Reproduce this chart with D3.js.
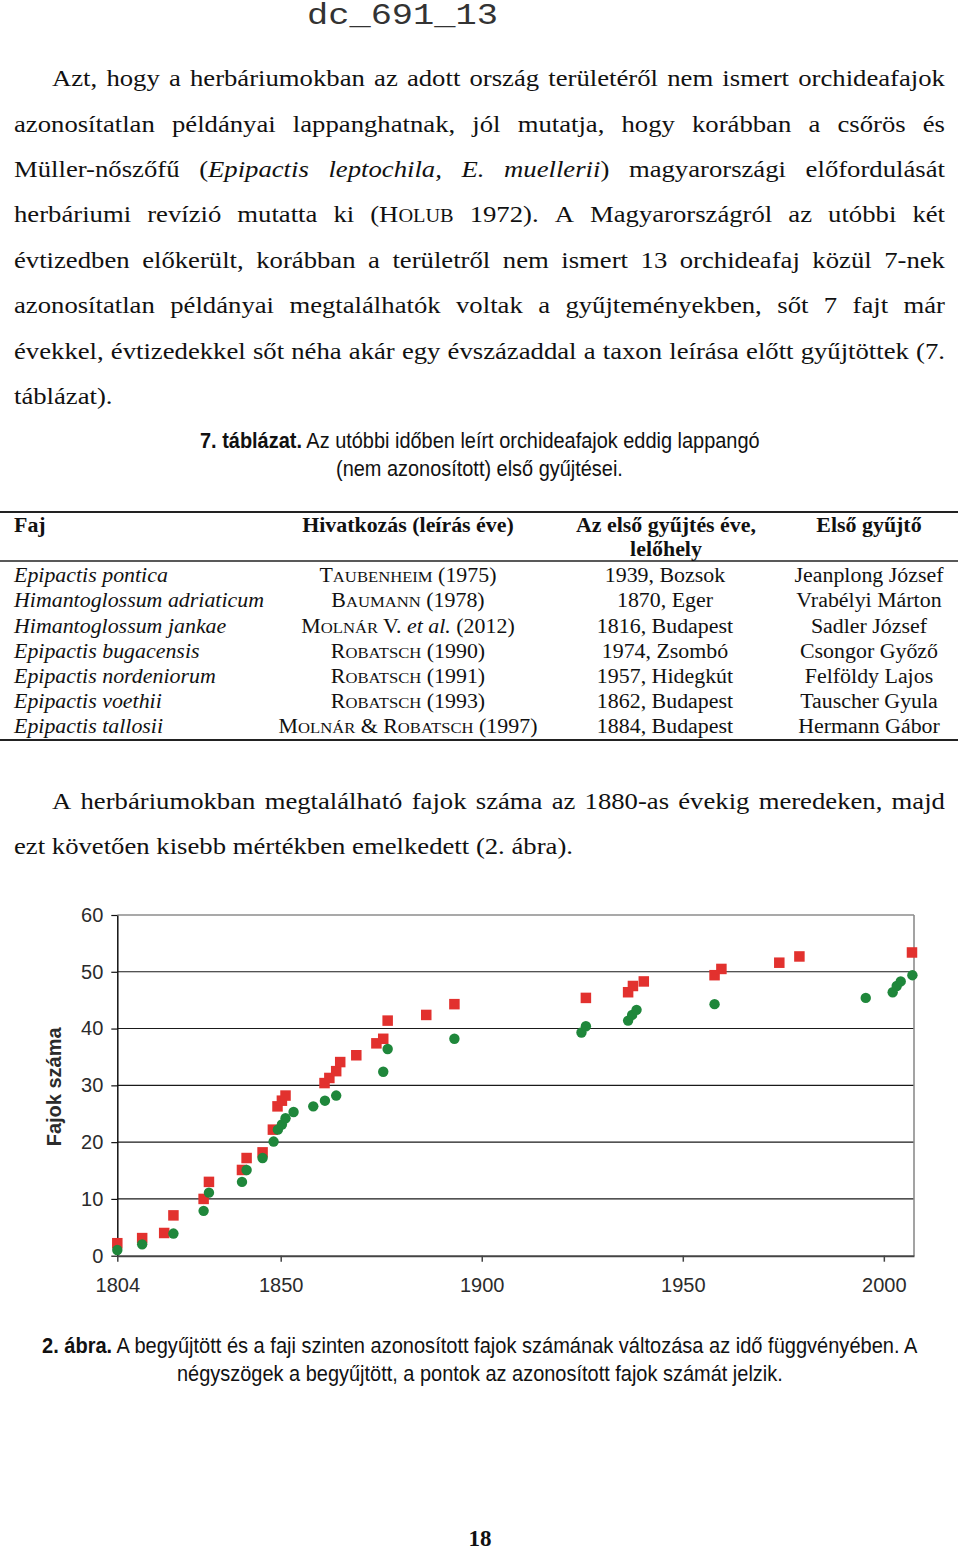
<!DOCTYPE html>
<html><head><meta charset="utf-8">
<script src="https://cdn.jsdelivr.net/npm/d3@7"></script>
<style>html,body{margin:0;padding:0;background:#fff;} svg{display:block;}</style>
</head><body>
<svg id="page" width="960" height="1553"></svg>
<script>
// ---------------- data ----------------
const headerCode = "dc_691_13";
const para1Lines = [
  "Azt, hogy a herbáriumokban az adott ország területéről nem ismert orchideafajok",
  "azonosítatlan példányai lappanghatnak, jól mutatja, hogy korábban a csőrös és",
  "Müller-nőszőfű (_Epipactis leptochila, E. muellerii_) magyarországi előfordulását",
  "herbáriumi revízió mutatta ki (H~OLUB~ 1972). A Magyarországról az utóbbi két",
  "évtizedben előkerült, korábban a területről nem ismert 13 orchideafaj közül 7-nek",
  "azonosítatlan példányai megtalálhatók voltak a gyűjteményekben, sőt 7 fajt már",
  "évekkel, évtizedekkel sőt néha akár egy évszázaddal a taxon leírása előtt gyűjtöttek (7.",
  "táblázat)."
];
const para2Lines = [
  "A herbáriumokban megtalálható fajok száma az 1880-as évekig meredeken, majd",
  "ezt követően kisebb mértékben emelkedett (2. ábra)."
];
const tableCaptionLines = [
  "*7. táblázat.* Az utóbbi időben leírt orchideafajok eddig lappangó",
  "(nem azonosított) első gyűjtései."
];
const tableHeaders = ["Faj", "Hivatkozás (leírás éve)", "Az első gyűjtés éve,", "Első gyűjtő"];
const tableHeaderSecondLine = "lelőhely";
const tableSpecies = ["Epipactis pontica", "Himantoglossum adriaticum", "Himantoglossum jankae",
  "Epipactis bugacensis", "Epipactis nordeniorum", "Epipactis voethii", "Epipactis tallosii"];
const tableReferences = ["T~AUBENHEIM~ (1975)", "B~AUMANN~ (1978)", "M~OLNÁR~ V. _et al._ (2012)",
  "R~OBATSCH~ (1990)", "R~OBATSCH~ (1991)", "R~OBATSCH~ (1993)", "M~OLNÁR~ & R~OBATSCH~ (1997)"];
const tableFirstCollections = ["1939, Bozsok", "1870, Eger", "1816, Budapest", "1974, Zsombó",
  "1957, Hidegkút", "1862, Budapest", "1884, Budapest"];
const tableCollectors = ["Jeanplong József", "Vrabélyi Márton", "Sadler József", "Csongor Győző",
  "Felföldy Lajos", "Tauscher Gyula", "Hermann Gábor"];
const figCaptionLines = [
  "*2. ábra.* A begyűjtött és a faji szinten azonosított fajok számának változása az idő függvényében. A",
  "négyszögek a begyűjtött, a pontok az azonosított fajok számát jelzik."
];
const pageNumber = "18";

// chart
const yAxisTitle = "Fajok száma";
const xTickValues = [1804, 1850, 1900, 1950, 2000];
const xTickLabels = ["1804", "1850", "1900", "1950", "2000"];
const yTickValues = [0, 10, 20, 30, 40, 50, 60];
const xDomain = [1804, 1850, 2007.5];
const collectedYears  = [1804, 1811, 1817.2, 1819.8, 1828.3, 1829.8, 1839.1, 1840.4, 1844.9, 1847.8, 1849.1, 1850.3, 1851.2,
  1860.9, 1862.1, 1863.8, 1864.8, 1868.8, 1873.8, 1875.5, 1876.6, 1886.2, 1893.2,
  1925.9, 1936.4, 1937.6, 1940.3, 1957.9, 1959.6, 1974, 1979, 2007];
const collectedCounts = [2.2, 3.1, 4, 7.1, 10, 13, 15.1, 17.2, 18.2, 22.2, 26.3, 27.3, 28.2,
  30.4, 31.3, 32.5, 34.1, 35.3, 37.4, 38.2, 41.4, 42.4, 44.3,
  45.4, 46.4, 47.5, 48.3, 49.4, 50.5, 51.6, 52.7, 53.4];
const identifiedYears  = [1804, 1811, 1819.8, 1828.3, 1829.8, 1839.1, 1840.4, 1844.9, 1848, 1849.2, 1850.3, 1851.2, 1853.2,
  1858.1, 1861, 1863.8, 1875.5, 1876.6, 1893.2, 1924.8, 1925.9, 1936.4, 1937.4, 1938.5, 1957.9,
  1995.5, 2002.2, 2003.2, 2004.2, 2007.1];
const identifiedCounts = [1, 2, 3.9, 7.9, 11.1, 13, 15.1, 17.2, 20.1, 22.2, 23.1, 24.2, 25.3,
  26.3, 27.3, 28.2, 32.4, 36.4, 38.2, 39.3, 40.4, 41.4, 42.4, 43.3, 44.3,
  45.4, 46.4, 47.5, 48.3, 49.4];

// ---------------- helpers ----------------
const SERIF = "'Liberation Serif', 'Times New Roman', serif";
const SANS = "'Liberation Sans', Arial, sans-serif";
const MONO = "'Liberation Mono', 'Courier New', monospace";
const svg = d3.select('#page');

function parseRuns(str, state) {
  const runs = []; let cur = null;
  for (const ch of str) {
    if (ch === '_') { state.i = !state.i; cur = null; continue; }
    if (ch === '~') { state.sc = !state.sc; cur = null; continue; }
    if (ch === '*') { state.b = !state.b; cur = null; continue; }
    if (!cur) { cur = {t: '', i: state.i, sc: state.sc, b: state.b}; runs.push(cur); }
    cur.t += ch;
  }
  return runs.filter(r => r.t.length);
}
function addRich(g, runs, o) {
  const t = g.append('text')
    .attr('font-family', o.family).attr('font-size', o.fs)
    .attr('font-weight', o.weight || 'normal').attr('fill', o.fill || '#111')
    .style('white-space', 'pre');
  runs.forEach(r => {
    const ts = t.append('tspan').text(r.t)
      .attr('font-style', r.i ? 'italic' : 'normal')
      .attr('font-size', r.sc ? o.fs * 0.76 : o.fs);
    if (r.b) ts.attr('font-weight', 'bold');
  });
  return t;
}
function wordsOf(markup, state) {
  const runs = parseRuns(markup, state);
  const words = [[]];
  runs.forEach(r => {
    r.t.split(' ').forEach((part, k) => {
      if (k > 0) words.push([]);
      if (part) words[words.length - 1].push(Object.assign({}, r, {t: part}));
    });
  });
  return words.filter(w => w.length);
}
function buildLine(g, markup, state, o) {
  const ws = wordsOf(markup, state);
  const nodes = ws.map(w => addRich(g, w, o));
  const widths = nodes.map(n => n.node().getComputedTextLength());
  return {nodes, widths};
}
function placeLine(line, x0, x1, y, justify, hs, spaceW) {
  let s = hs;
  const sum = d3.sum(line.widths), n = line.widths.length;
  let gap = spaceW;
  if (justify && n > 1) {
    gap = (x1 - x0 - sum * s) / (n - 1);
    const minGap = spaceW * 0.55;
    if (gap < minGap) { s = (x1 - x0 - minGap * (n - 1)) / sum; gap = minGap; }
  }
  let x = x0;
  line.nodes.forEach((nd, i) => {
    nd.attr('transform', `translate(${x},${y}) scale(${s},1)`);
    x += line.widths[i] * s + gap;
  });
}
function fitNode(t, x0, x1, y) {
  const w = t.node().getComputedTextLength();
  t.attr('transform', `translate(${x0},${y}) scale(${(x1 - x0) / w},1)`);
  return t;
}
function fitLine(g, markup, x0, x1, y, o) {
  return fitNode(addRich(g, parseRuns(markup, {}), o), x0, x1, y);
}

// ---------------- header (plain text, no markup parsing) ----------------
const hdr = svg.append('text').text(headerCode)
  .attr('font-family', MONO).attr('font-size', 29).attr('fill', '#333')
  .style('white-space', 'pre');
fitNode(hdr, 307, 498, 24);

// ---------------- body text ----------------
const bodyFs = 24;
const bodyOpt = {family: SERIF, fs: bodyFs, fill: '#111'};
const bodyG = svg.append('g');
const calState = {};
const p2last = buildLine(bodyG, para2Lines[1], calState, bodyOpt);
const spNat = bodyFs * 0.25;
const hsBody = (573 - 14) / (d3.sum(p2last.widths) + spNat * (p2last.widths.length - 1));
const spaceW = spNat * hsBody;

const p1State = {};
const p1Base = [86, 131.5, 176.5, 222, 267.5, 313, 358.5, 404];
para1Lines.forEach((ln, i) => {
  const L = buildLine(bodyG, ln, p1State, bodyOpt);
  const last = i === para1Lines.length - 1;
  placeLine(L, i === 0 ? 52 : 14, 945, p1Base[i], !last, hsBody, spaceW);
});
const p2First = buildLine(bodyG, para2Lines[0], {}, bodyOpt);
placeLine(p2First, 52, 945, 809, true, hsBody, spaceW);
placeLine(p2last, 14, 573, 854, false, hsBody, spaceW);

// ---------------- table caption ----------------
const capOpt = {family: SANS, fs: 22, fill: '#111'};
fitLine(svg, tableCaptionLines[0], 200, 760, 448, capOpt);
fitLine(svg, tableCaptionLines[1], 336, 623, 476, capOpt);

// ---------------- table ----------------
const tg = svg.append('g');
const tFs = 20;
const tOpt = {family: SERIF, fs: tFs, fill: '#111'};
const calT = addRich(tg, parseRuns(tableCollectors[0], {}), tOpt);
const hsTable = 149 / calT.node().getComputedTextLength();
calT.remove();
function cell(markup, cx, y, align, extra) {
  const o = Object.assign({}, tOpt, extra || {});
  const t = addRich(tg, parseRuns(markup, {}), o);
  const w = t.node().getComputedTextLength() * hsTable;
  const x = align === 'left' ? cx : cx - w / 2;
  t.attr('transform', `translate(${x},${y}) scale(${hsTable},1)`);
}
[[512, 2], [561, 1.3], [740, 2]].forEach(([yy, sw]) => {
  tg.append('line').attr('x1', 0).attr('x2', 958).attr('y1', yy).attr('y2', yy)
    .attr('stroke', '#222').attr('stroke-width', sw);
});
const colCenters = [14, 408, 666, 869];
tableHeaders.forEach((h, i) => cell(h, colCenters[i], 532, i === 0 ? 'left' : 'center', {weight: 'bold'}));
cell(tableHeaderSecondLine, colCenters[2], 556, 'center', {weight: 'bold'});
const rowBase = [582, 607, 632.5, 657.5, 683, 708, 733];
tableSpecies.forEach((s, i) => {
  cell('_' + s + '_', colCenters[0], rowBase[i], 'left');
  cell(tableReferences[i], colCenters[1], rowBase[i], 'center');
  cell(tableFirstCollections[i], colCenters[2] - 1, rowBase[i], 'center');
  cell(tableCollectors[i], colCenters[3], rowBase[i], 'center');
});

// ---------------- chart ----------------
const chart = svg.append('g');
const x = d3.scaleLinear().domain(xDomain).range([117.3, 280.7, 914]);
const y = d3.scaleLinear().domain([0, 60]).range([1255.7, 915]);
const xMin = xDomain[0], xMax = xDomain[xDomain.length - 1];

chart.append('g').selectAll('line').data(yTickValues.filter(v => v > 0)).join('line')
  .attr('x1', x(xMin)).attr('x2', x(xMax))
  .attr('y1', d => y(d)).attr('y2', d => y(d))
  .attr('stroke', d => d === 60 ? '#8c8c8c' : '#1a1a1a')
  .attr('stroke-width', d => d === 60 ? 1.6 : 1.1);
chart.append('line').attr('x1', x(xMax)).attr('x2', x(xMax)).attr('y1', y(60)).attr('y2', y(0))
  .attr('stroke', '#8c8c8c').attr('stroke-width', 1.6);

const yAxis = d3.axisLeft(y).tickValues(yTickValues).tickSize(6).tickSizeOuter(0).tickPadding(8);
chart.append('g').attr('transform', `translate(${x(xMin)},0)`).call(yAxis)
  .call(g => g.select('.domain').attr('stroke', '#111').attr('stroke-width', 1.5))
  .call(g => g.selectAll('.tick line').attr('stroke', '#111').attr('stroke-width', 1.2))
  .call(g => g.selectAll('text').attr('font-family', SANS).attr('font-size', 20).attr('fill', '#2b2b2b'));

const xAxis = d3.axisBottom(x).tickValues(xTickValues).tickFormat((d, i) => xTickLabels[i])
  .tickSize(6).tickSizeOuter(0).tickPadding(16);
chart.append('g').attr('transform', `translate(0,${y(0)})`).call(xAxis)
  .call(g => g.select('.domain').attr('stroke', '#444').attr('stroke-width', 2))
  .call(g => g.selectAll('.tick line').attr('stroke', '#444').attr('stroke-width', 1.5))
  .call(g => g.selectAll('text').attr('font-family', SANS).attr('font-size', 20).attr('fill', '#2b2b2b'));

chart.append('text').text(yAxisTitle)
  .attr('transform', `translate(61,${(y(0) + y(60)) / 2 + 1.5}) rotate(-90)`)
  .attr('text-anchor', 'middle').attr('font-family', SANS).attr('font-size', 20)
  .attr('font-weight', 'bold').attr('fill', '#2b2b2b');

const sq = 10.5;
chart.append('g').selectAll('rect').data(d3.range(collectedYears.length)).join('rect')
  .attr('x', i => x(collectedYears[i]) - sq / 2).attr('y', i => y(collectedCounts[i]) - sq / 2)
  .attr('width', sq).attr('height', sq).attr('fill', '#e2312e');
chart.append('g').selectAll('circle').data(d3.range(identifiedYears.length)).join('circle')
  .attr('cx', i => x(identifiedYears[i])).attr('cy', i => y(identifiedCounts[i]))
  .attr('r', 5.2).attr('fill', '#1f873b');

// ---------------- figure caption & page number ----------------
fitLine(svg, figCaptionLines[0], 42, 918, 1353, capOpt);
fitLine(svg, figCaptionLines[1], 177, 783, 1381, capOpt);
svg.append('text').text(pageNumber).attr('x', 480).attr('y', 1546).attr('text-anchor', 'middle')
  .attr('font-family', SERIF).attr('font-size', 23).attr('font-weight', 'bold').attr('fill', '#111');
</script>
</body></html>
